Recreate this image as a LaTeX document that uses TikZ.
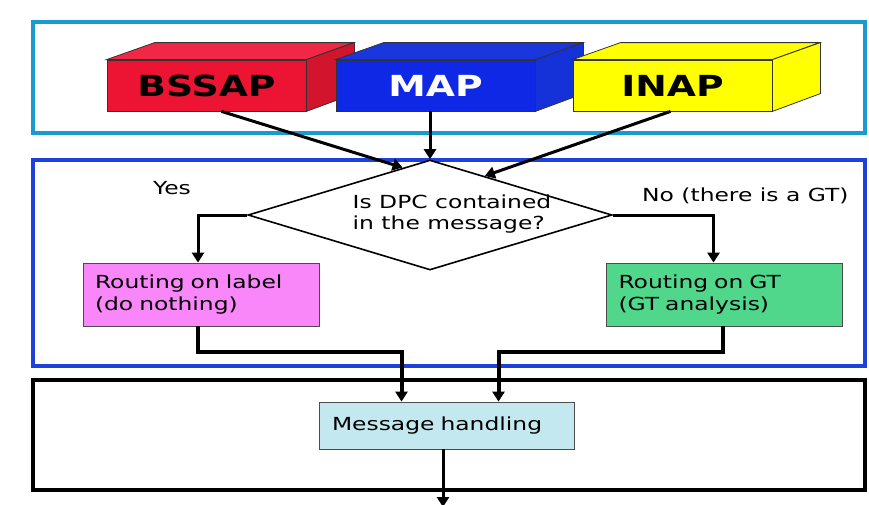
\documentclass[tikz,border=0pt]{standalone}
\usepackage{fontspec}
\setmainfont[FakeStretch=1.3]{DejaVu Sans}
\usetikzlibrary{shapes.geometric,arrows.meta,calc}

\definecolor{topframe}{RGB}{25,155,210}
\definecolor{midframe}{RGB}{30,65,220}
\definecolor{redfront}{RGB}{236,20,50}
\definecolor{redtop}{RGB}{240,40,70}
\definecolor{redside}{RGB}{210,20,45}
\definecolor{bluefront}{RGB}{15,40,230}
\definecolor{bluetop}{RGB}{25,55,220}
\definecolor{blueside}{RGB}{20,50,215}
\definecolor{yellowbox}{RGB}{255,255,0}
\definecolor{pinkbox}{RGB}{250,135,250}
\definecolor{greenbox}{RGB}{80,215,140}
\definecolor{cyanbox}{RGB}{195,232,240}

\tikzset{
  proto/.style={draw=black!80, line width=0.8pt, minimum width=199pt, minimum height=51pt, inner sep=0pt, font=\bfseries\fontsize{29}{29}\selectfont},
  face/.style={draw=black!80, line width=0.8pt},
  routebox/.style={draw=black!70, line width=0.8pt, minimum width=236pt, minimum height=63pt, text width=212pt, inner sep=0pt, align=left, font=\fontsize{18}{22}\selectfont},
  decision/.style={diamond, draw, fill=white, line width=1.6pt, aspect=3.3, minimum width=364pt, minimum height=110pt, inner sep=0pt},
  flow/.style={line width=3pt, -{Triangle[length=10pt,width=12pt]}},
  frame/.style={line width=4pt},
}

\begin{document}
\begin{tikzpicture}[x=1pt,y=-1pt]

	\useasboundingbox (0,0) rectangle (869,504);

	% frames
	\draw[frame, topframe] (33,22) rectangle (865,133);
	\draw[frame, midframe] (33,160) rectangle (865,366);
	\draw[frame, black] (33,380) rectangle (865,490);

	% BSSAP
	\node[proto, fill=redfront] (bssap) at (206.5,85.5) {BSSAP};
	\filldraw[face, fill=redtop] (bssap.north west) -- ++(48,-17) -- ++(199,0) -- (bssap.north east) -- cycle;
	\filldraw[face, fill=redside] (bssap.north east) -- ++(48,-17) -- ++(0,51) -- (bssap.south east) -- cycle;

	% MAP
	\node[proto, fill=bluefront, text=white] (map) at (435.5,85.5) {MAP};
	\filldraw[face, fill=bluetop] (map.north west) -- ++(48,-17) -- ++(199,0) -- (map.north east) -- cycle;
	\filldraw[face, fill=blueside] (map.north east) -- ++(48,-17) -- ++(0,51) -- (map.south east) -- cycle;

	% INAP
	\node[proto, fill=yellowbox] (inap) at (672.5,85.5) {INAP};
	\filldraw[face, fill=yellowbox] (inap.north west) -- ++(48,-17) -- ++(199,0) -- (inap.north east) -- cycle;
	\filldraw[face, fill=yellowbox] (inap.north east) -- ++(48,-17) -- ++(0,51) -- (inap.south east) -- cycle;

	% decision
	\node[decision] (dpc) at (430,215) {};
	\node[align=left, inner sep=0pt, font=\fontsize{18}{21}\selectfont] (dpctext) at (452,214) {Is DPC contained\\in the message?};
	\node[font=\fontsize{18}{21}\selectfont] (yes) at (172,188) {Yes};
	\node[anchor=west, inner sep=0pt, font=\fontsize{18}{21}\selectfont] (no) at (642,196) {No (there is a GT)};

	% routing boxes
	\node[routebox, fill=pinkbox] (lbl) at (201,294.5) {Routing on label\\(do nothing)};
	\node[routebox, fill=greenbox] (gt) at (724.5,294.5) {Routing on GT\\(GT analysis)};

	% message handling
	\node[routebox, fill=cyanbox, minimum width=255pt, minimum height=47pt, text width=229pt] (msg) at (446.5,425.5) {Message handling};
	\coordinate (exit) at (443,507);

	% arrows into decision
	\draw[flow] ([xshift=15pt]bssap.south) -- ($(dpc.north)!0.15!(dpc.west)$);
	\draw[flow] (map.south -| dpc.north) -- (dpc.north);
	\draw[flow] ([xshift=-2pt]inap.south) -- ($(dpc.north)!0.3!(dpc.east)$);

	% branches
	\draw[flow] (dpc.west) -| ([xshift=-3pt]lbl.north);
	\draw[flow] (dpc.east) -| ([xshift=-11pt]gt.north);

	% into message handling
	\draw[flow, line width=4pt] ([xshift=-3pt]lbl.south) -- ++(0,26) -| ([xshift=-45pt]msg.north);
	\draw[flow, line width=4pt] ([xshift=-2pt]gt.south) -- ++(0,26) -| ([xshift=52pt]msg.north);
	\draw[flow] (msg.south -| exit) -- (exit);

\end{tikzpicture}
\end{document}
